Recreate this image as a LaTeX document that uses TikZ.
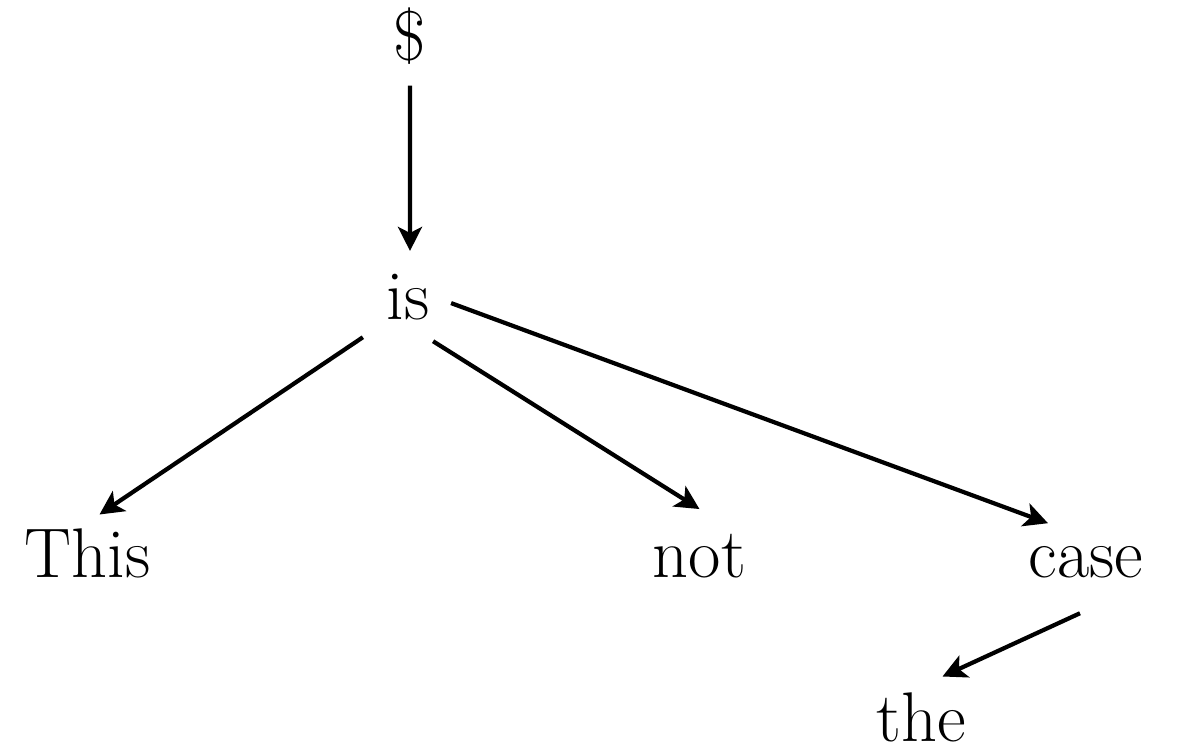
\documentclass[tikz,border=0pt]{standalone}
\usepackage{tikz}
\usetikzlibrary{arrows.meta, positioning}

\begin{document}
\begin{tikzpicture}[
    every node/.style={font=\fontsize{20}{24}\selectfont},
    word/.style={inner sep=0pt, anchor=base},
    arrow/.style={-{Stealth[length=2.4mm, width=2.4mm, inset=0.6mm]}, line width=1.2pt}
]
\useasboundingbox (0,0) rectangle (11.82,7.48);

\node[word] (root) at (4.10,6.87) {\$};
\node[word] (is) at (4.08,4.28) {is};
\node[word] (this) at (0.875,1.70) {This};
\node[word] (not) at (6.995,1.70) {not};
\node[word] (case) at (10.86,1.70) {case};
\node[word] (the) at (9.215,0.06) {the};

\draw[arrow] ([shift={(0,-0.20)}]root.south) -- ([shift={(0.02,0.23)}]is.north);
\draw[arrow] ([shift={(-0.23,-0.16)}]is.south west) -- ([shift={(0.12,0.14)}]this.north);
\draw[arrow] ([shift={(0.03,-0.20)}]is.south east) -- ([shift={(0,0.25)}]not.north);
\draw[arrow] ([shift={(0.21,-0.055)}]is.east) -- ([shift={(-0.38,0.23)}]case.north);
\draw[arrow] ([shift={(-0.06,-0.34)}]case.south) -- ([shift={(0.21,0.16)}]the.north);

\end{tikzpicture}
\end{document}
